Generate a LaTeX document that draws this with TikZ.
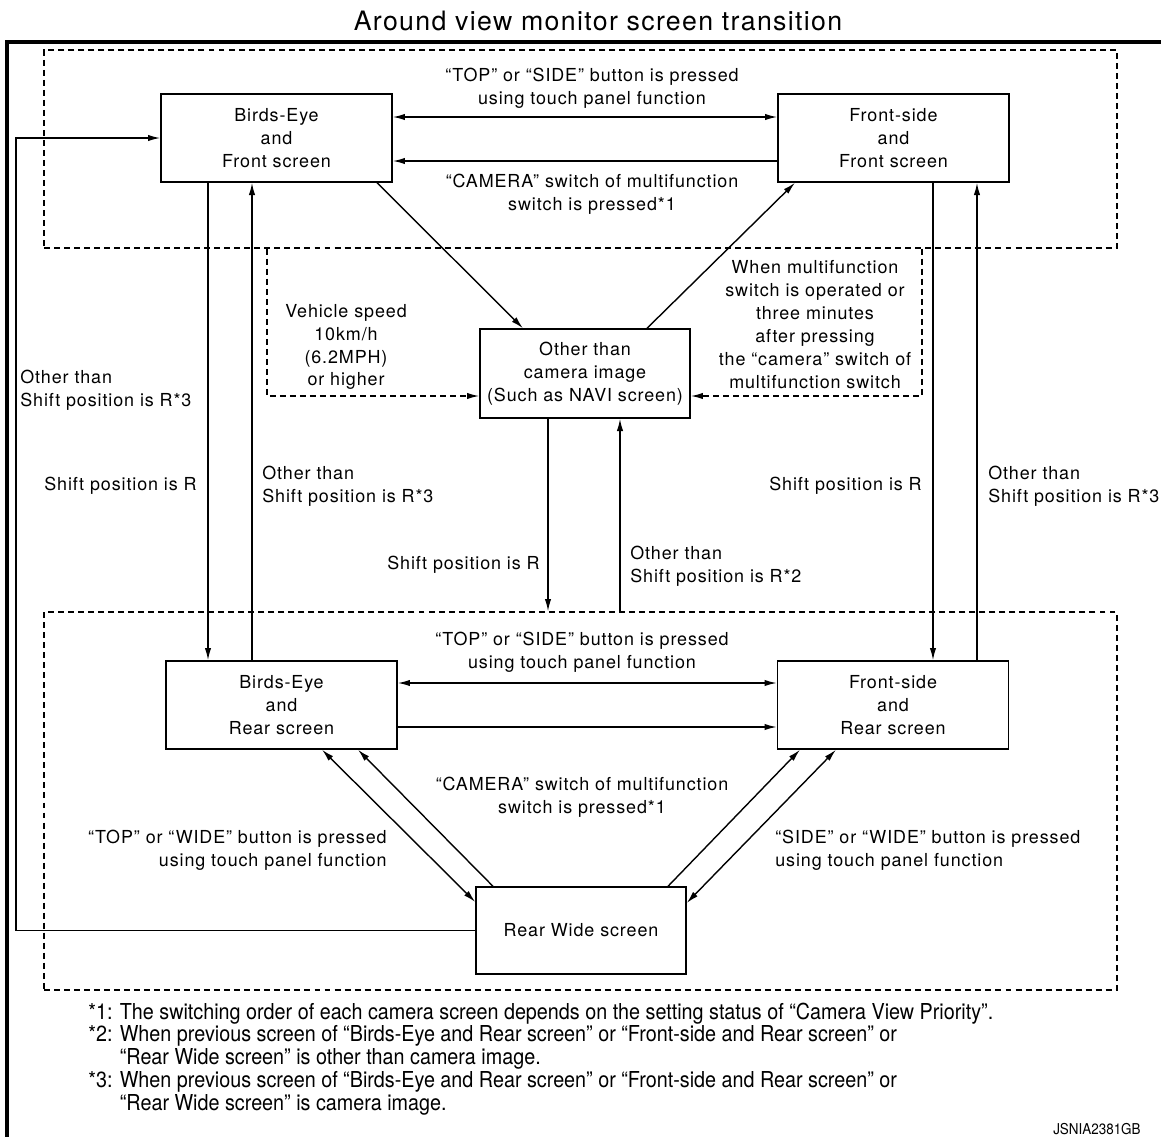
\documentclass[tikz,border=0pt]{standalone}
\usepackage{fontspec}
\setmainfont{TeX Gyre Heros}[LetterSpace=5]
\newfontfamily\notefont{TeX Gyre Heros}[FakeStretch=0.9]
\usepackage{tikz}
\usetikzlibrary{arrows.meta,positioning}
\tikzset{
  screen box/.style={
    draw,line width=0.8pt,align=center,inner sep=0pt,
    minimum width=4.62cm,minimum height=1.76cm
  },
  trans edge/.style={
    line width=0.8pt,-{Latex[length=7pt,width=3.6pt]}
  },
  both edge/.style={
    trans edge,{Latex[length=7pt,width=3.6pt]}-{Latex[length=7pt,width=3.6pt]}
  },
  cond edge/.style={
    trans edge,dash pattern=on 3.4pt off 2.3pt
  },
  dash frame/.style={
    draw,line width=0.8pt,dash pattern=on 3.4pt off 2.3pt,inner sep=0pt
  },
  cond label/.style={
    inner sep=0pt,align=center
  },
  note text/.style={
    inner sep=0pt,align=left,font={\fontsize{12.5}{13}\notefont}
  }
}

\begin{document}
\begin{tikzpicture}[x=0.02cm,y=-0.02cm,font=\fontsize{10.2}{13}\selectfont]
  \useasboundingbox (0,0) rectangle (1161,1137);

  \node[font=\fontsize{15.2}{18}\selectfont] (title) at (598,21)
    {Around view monitor screen transition};
  \draw[line width=2.2pt] (7,1137) |- (1161,42);

  \node[dash frame,minimum width=21.46cm,minimum height=3.96cm] (upframe) at (580.5,149) {};
  \node[dash frame,minimum width=21.46cm,minimum height=7.56cm] (lowframe) at (580.5,801) {};

  \node[screen box] (BEF) at (276.5,138) {Birds-Eye\\and\\Front screen};
  \node[screen box] (FSF) at (893.5,138) {Front-side\\and\\Front screen};
  \node[screen box,minimum width=4.2cm,minimum height=1.78cm] (NAVI) at (585,373.5)
    {Other than\\camera image\\(Such as NAVI screen)};
  \node[screen box] (BER) at (281.5,705) {Birds-Eye\\and\\Rear screen};
  \node[screen box] (FSR) at (893,705) {Front-side\\and\\Rear screen};
  \node[screen box,minimum width=4.2cm,minimum height=1.74cm] (RW) at (581,930.5)
    {Rear Wide screen};

  \coordinate (loopx) at (16,0);
  \coordinate (spdx) at (267,0);
  \coordinate (tmrx) at (922,0);

  \draw[both edge] ([yshift=0.42cm]BEF.east) -- ([yshift=0.42cm]FSF.west);
  \draw[trans edge] ([yshift=-0.46cm]FSF.west) -- ([yshift=-0.46cm]BEF.east);
  \draw[both edge] ([yshift=0.44cm]BER.east) -- ([yshift=0.44cm]FSR.west);
  \draw[trans edge] ([yshift=-0.44cm]BER.east) -- ([yshift=-0.44cm]FSR.west);

  \draw[trans edge] ([xshift=2.01cm]BEF.south) -- ([xshift=-1.24cm]NAVI.north);
  \draw[trans edge] ([xshift=1.24cm]NAVI.north) -- ([xshift=-1.97cm]FSF.south);
  \draw[trans edge] ([xshift=-1.76cm]RW.north) -- ([xshift=1.53cm]BER.south);
  \draw[both edge] ([xshift=0.81cm]BER.south) -- ([yshift=0.57cm]RW.west);
  \draw[trans edge] ([xshift=1.74cm]RW.north) -- ([xshift=-1.86cm]FSR.south);
  \draw[both edge] ([xshift=-1.14cm]FSR.south) -- ([yshift=0.55cm]RW.east);

  \foreach \hi/\lo/\dn/\up in {BEF/BER/-1.37/-0.49,FSF/FSR/0.79/1.67} {
    \draw[trans edge] ([xshift=\dn cm]\hi.south) -- ([xshift=\dn cm]\hi.south |- \lo.north);
    \draw[trans edge] ([xshift=\up cm]\hi.south |- \lo.north) -- ([xshift=\up cm]\hi.south);
  }
  \draw[trans edge] ([xshift=-0.74cm]NAVI.south) -- ([xshift=-0.74cm]NAVI.south |- lowframe.north);
  \draw[trans edge] ([xshift=0.7cm]NAVI.south |- lowframe.north) -- ([xshift=0.7cm]NAVI.south);

  \draw[trans edge] (RW.west) -- (RW.west -| loopx) |- (BEF.west);
  \draw[cond edge] (upframe.south -| spdx) |- ([yshift=-0.45cm]NAVI.west);
  \draw[cond edge] (upframe.south -| tmrx) |- ([yshift=-0.45cm]NAVI.east);

  \node[cond label] (topbtn) at (592,88)
    {“TOP” or “SIDE” button is pressed\\using touch panel function};
  \node[cond label] (topcam) at (592,194)
    {“CAMERA” switch of multifunction\\switch is pressed*1};
  \node[cond label] (speed) at (346,347) {Vehicle speed\\10km/h\\(6.2MPH)\\or higher};
  \node[cond label] (timer) at (815,324.5)
    {When multifunction\\switch is operated or\\three minutes\\after pressing\\the “camera” switch of\\multifunction switch};
  \node[cond label,anchor=west,align=left] (nRa) at (20,390) {Other than\\Shift position is R*3};
  \node[cond label,anchor=east] (Ra) at (197,486) {Shift position is R};
  \node[cond label,anchor=west,align=left] (nRb) at (262,486) {Other than\\Shift position is R*3};
  \node[cond label,anchor=east] (Rb) at (540,565) {Shift position is R};
  \node[cond label,anchor=west,align=left] (nRc) at (630,566) {Other than\\Shift position is R*2};
  \node[cond label,anchor=east] (Rc) at (922,486) {Shift position is R};
  \node[cond label,anchor=west,align=left] (nRd) at (988,486) {Other than\\Shift position is R*3};
  \node[cond label] (lowbtn) at (582,652)
    {“TOP” or “SIDE” button is pressed\\using touch panel function};
  \node[cond label] (lowcam) at (582,797)
    {“CAMERA” switch of multifunction\\switch is pressed*1};
  \node[cond label,anchor=east,align=right] (topwide) at (387,850)
    {“TOP” or “WIDE” button is pressed\\using touch panel function};
  \node[cond label,anchor=west,align=left] (sidewide) at (775,850)
    {“SIDE” or “WIDE” button is pressed\\using touch panel function};

  \node[note text,anchor=west] (notes) at (88,1059)
    {*1: The switching order of each camera screen depends on the setting status of “Camera View Priority”.\\
     *2: When previous screen of “Birds-Eye and Rear screen” or “Front-side and Rear screen” or\\
     \phantom{*2: }“Rear Wide screen” is other than camera image.\\
     *3: When previous screen of “Birds-Eye and Rear screen” or “Front-side and Rear screen” or\\
     \phantom{*3: }“Rear Wide screen” is camera image.};
  \node[inner sep=0pt,anchor=east,font={\fontsize{8.5}{10}\notefont}] (code) at (1141,1129) {JSNIA2381GB};
\end{tikzpicture}
\end{document}
